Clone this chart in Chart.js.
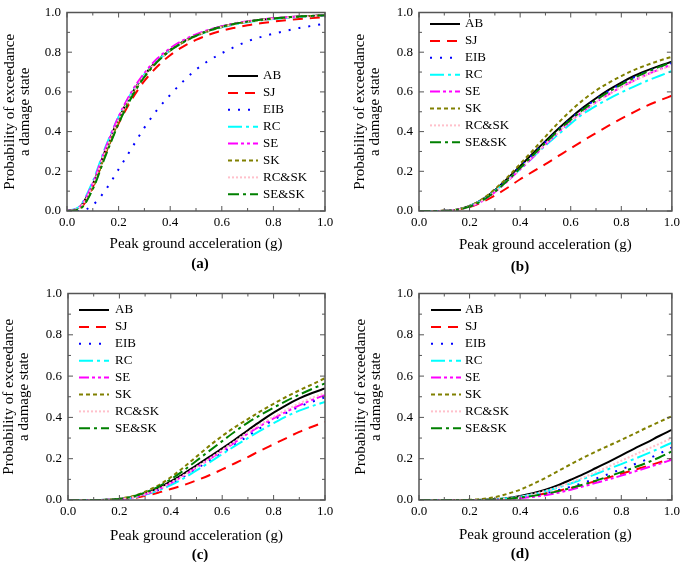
<!DOCTYPE html>
<html lang="en">
<head>
<meta charset="UTF-8" />
<title>Fragility curves</title>
<script src="https://cdn.jsdelivr.net/npm/chart.js@4.4.0/dist/chart.umd.min.js"></script>
<style>
  body { margin: 0; background: #fff; }
  #wrap { position: relative; width: 685px; height: 562px; }
  canvas { position: absolute; }
</style>
</head>
<body>
<div id="wrap">
  <canvas id="chartA" width="342" height="281" style="left:0;top:0"></canvas>
  <canvas id="chartB" width="343" height="281" style="left:342px;top:0"></canvas>
  <canvas id="chartC" width="342" height="281" style="left:0;top:281px"></canvas>
  <canvas id="chartD" width="343" height="281" style="left:342px;top:281px"></canvas>
</div>
<script>
// peak ground acceleration (g)
const pga = [0, 0.05, 0.1, 0.15, 0.2, 0.25, 0.3, 0.35, 0.4, 0.45, 0.5,
             0.55, 0.6, 0.65, 0.7, 0.75, 0.8, 0.85, 0.9, 0.95, 1.0];
const seriesNames = ["AB", "SJ", "EIB", "RC", "SE", "SK", "RC&SK", "SE&SK"];

// (a)
const a_AB   = [0, 0.02, 0.135, 0.31, 0.465, 0.59, 0.685, 0.758, 0.812, 0.853, 0.885, 0.91, 0.929, 0.943, 0.954, 0.963, 0.97, 0.975, 0.98, 0.983, 0.986];
const a_SJ   = [0, 0.012, 0.12, 0.29, 0.44, 0.56, 0.655, 0.728, 0.785, 0.828, 0.862, 0.888, 0.908, 0.923, 0.936, 0.946, 0.954, 0.961, 0.967, 0.972, 0.977];
const a_EIB  = [0, 0, 0.03, 0.107, 0.21, 0.315, 0.42, 0.51, 0.585, 0.653, 0.712, 0.758, 0.795, 0.827, 0.855, 0.876, 0.893, 0.908, 0.922, 0.933, 0.943];
const a_RC   = [0, 0.025, 0.15, 0.325, 0.475, 0.595, 0.688, 0.758, 0.81, 0.85, 0.882, 0.906, 0.925, 0.94, 0.951, 0.96, 0.967, 0.972, 0.977, 0.981, 0.984];
const a_SE   = [0, 0.022, 0.14, 0.318, 0.475, 0.6, 0.695, 0.768, 0.82, 0.86, 0.89, 0.913, 0.931, 0.945, 0.956, 0.964, 0.971, 0.976, 0.98, 0.983, 0.986];
const a_SK   = [0, 0.012, 0.115, 0.29, 0.45, 0.578, 0.678, 0.752, 0.808, 0.85, 0.882, 0.907, 0.927, 0.942, 0.953, 0.962, 0.969, 0.975, 0.979, 0.983, 0.986];
const a_RCSK = [0, 0.018, 0.13, 0.305, 0.46, 0.585, 0.682, 0.755, 0.81, 0.851, 0.883, 0.908, 0.927, 0.942, 0.953, 0.962, 0.969, 0.975, 0.979, 0.982, 0.985];
const a_SESK = [0, 0.01, 0.11, 0.28, 0.44, 0.572, 0.675, 0.752, 0.808, 0.85, 0.883, 0.908, 0.928, 0.943, 0.954, 0.963, 0.97, 0.975, 0.98, 0.983, 0.986];

// (b)
const b_AB   = [0, 0, 0.001, 0.007, 0.025, 0.058, 0.105, 0.163, 0.226, 0.29, 0.352, 0.413, 0.47, 0.522, 0.568, 0.61, 0.647, 0.68, 0.707, 0.731, 0.752];
const b_SJ   = [0, 0, 0.001, 0.006, 0.02, 0.045, 0.078, 0.117, 0.16, 0.198, 0.236, 0.276, 0.316, 0.355, 0.393, 0.43, 0.465, 0.498, 0.53, 0.556, 0.581];
const b_EIB  = [0, 0, 0.001, 0.007, 0.025, 0.057, 0.103, 0.16, 0.222, 0.286, 0.348, 0.408, 0.465, 0.517, 0.563, 0.604, 0.641, 0.673, 0.701, 0.725, 0.746];
const b_RC   = [0, 0, 0.001, 0.007, 0.025, 0.055, 0.1, 0.155, 0.21, 0.27, 0.33, 0.385, 0.44, 0.49, 0.53, 0.565, 0.597, 0.627, 0.655, 0.68, 0.705];
const b_SE   = [0, 0, 0.001, 0.006, 0.022, 0.05, 0.095, 0.15, 0.21, 0.27, 0.335, 0.395, 0.452, 0.503, 0.548, 0.588, 0.625, 0.657, 0.687, 0.713, 0.738];
const b_SK   = [0, 0, 0.001, 0.007, 0.025, 0.06, 0.11, 0.17, 0.237, 0.305, 0.375, 0.443, 0.505, 0.56, 0.607, 0.646, 0.68, 0.71, 0.735, 0.757, 0.777];
const b_RCSK = [0, 0, 0.001, 0.006, 0.023, 0.053, 0.097, 0.152, 0.213, 0.275, 0.337, 0.396, 0.452, 0.503, 0.548, 0.588, 0.624, 0.656, 0.685, 0.71, 0.732];
const b_SESK = [0, 0, 0.001, 0.006, 0.022, 0.052, 0.097, 0.153, 0.216, 0.28, 0.343, 0.404, 0.46, 0.512, 0.558, 0.6, 0.637, 0.67, 0.7, 0.726, 0.75];

// (c)
const c_AB   = [0, 0, 0, 0.001, 0.005, 0.015, 0.032, 0.057, 0.09, 0.127, 0.168, 0.209, 0.25, 0.293, 0.338, 0.382, 0.423, 0.46, 0.492, 0.518, 0.54];
const c_SJ   = [0, 0, 0, 0, 0.002, 0.008, 0.02, 0.035, 0.053, 0.072, 0.095, 0.12, 0.148, 0.178, 0.208, 0.24, 0.27, 0.3, 0.33, 0.355, 0.378];
const c_EIB  = [0, 0, 0, 0.001, 0.004, 0.012, 0.027, 0.048, 0.078, 0.113, 0.152, 0.19, 0.228, 0.268, 0.31, 0.35, 0.388, 0.422, 0.452, 0.476, 0.497];
const c_RC   = [0, 0, 0, 0.001, 0.004, 0.011, 0.025, 0.045, 0.072, 0.105, 0.143, 0.182, 0.222, 0.262, 0.3, 0.337, 0.372, 0.405, 0.433, 0.455, 0.475];
const c_SE   = [0, 0, 0, 0.001, 0.004, 0.012, 0.028, 0.05, 0.082, 0.118, 0.158, 0.198, 0.238, 0.28, 0.322, 0.36, 0.395, 0.428, 0.458, 0.485, 0.508];
const c_SK   = [0, 0, 0, 0.001, 0.006, 0.018, 0.04, 0.07, 0.11, 0.158, 0.21, 0.262, 0.31, 0.353, 0.392, 0.43, 0.466, 0.5, 0.531, 0.56, 0.59];
const c_RCSK = [0, 0, 0, 0.001, 0.004, 0.013, 0.029, 0.052, 0.084, 0.12, 0.16, 0.2, 0.242, 0.285, 0.328, 0.367, 0.403, 0.437, 0.468, 0.495, 0.518];
const c_SESK = [0, 0, 0, 0.001, 0.005, 0.016, 0.036, 0.064, 0.1, 0.143, 0.19, 0.238, 0.285, 0.332, 0.375, 0.412, 0.447, 0.48, 0.51, 0.538, 0.565];

// (d)
const d_AB   = [0, 0, 0, 0, 0, 0.001, 0.004, 0.01, 0.02, 0.033, 0.05, 0.072, 0.098, 0.125, 0.155, 0.185, 0.216, 0.248, 0.278, 0.31, 0.34];
const d_SJ   = [0, 0, 0, 0, 0, 0, 0.001, 0.006, 0.014, 0.022, 0.032, 0.044, 0.058, 0.074, 0.092, 0.109, 0.127, 0.145, 0.163, 0.182, 0.2];
const d_EIB  = [0, 0, 0, 0, 0, 0, 0.002, 0.006, 0.013, 0.022, 0.033, 0.047, 0.064, 0.083, 0.104, 0.126, 0.149, 0.172, 0.196, 0.224, 0.255];
const d_RC   = [0, 0, 0, 0, 0, 0, 0.003, 0.008, 0.016, 0.027, 0.042, 0.06, 0.08, 0.102, 0.126, 0.15, 0.174, 0.198, 0.223, 0.25, 0.278];
const d_SE   = [0, 0, 0, 0, 0, 0, 0.001, 0.004, 0.009, 0.015, 0.023, 0.035, 0.05, 0.066, 0.083, 0.1, 0.118, 0.137, 0.156, 0.175, 0.195];
const d_SK   = [0, 0, 0, 0, 0.001, 0.005, 0.014, 0.03, 0.05, 0.077, 0.107, 0.14, 0.173, 0.205, 0.235, 0.263, 0.291, 0.32, 0.35, 0.378, 0.406];
const d_RCSK = [0, 0, 0, 0, 0, 0, 0.003, 0.008, 0.016, 0.028, 0.044, 0.063, 0.085, 0.109, 0.135, 0.162, 0.19, 0.218, 0.245, 0.272, 0.3];
const d_SESK = [0, 0, 0, 0, 0, 0, 0.002, 0.006, 0.012, 0.02, 0.03, 0.043, 0.058, 0.075, 0.094, 0.114, 0.135, 0.157, 0.18, 0.206, 0.235];

const FONT = "'Liberation Serif', 'Times New Roman', serif";

// line look of each series (same in every panel)
const lineStyle = {
  "AB":    { color: "#000000", dash: [] },
  "SJ":    { color: "#ff0000", dash: [10, 7] },
  "EIB":   { color: "#0000ff", dash: [2, 8] },
  "RC":    { color: "#00ffff", dash: [14, 4, 3, 4] },
  "SE":    { color: "#ff00ff", dash: [10, 3, 3, 3, 3, 3] },
  "SK":    { color: "#808000", dash: [4, 3] },
  "RC&SK": { color: "#ffc0cb", dash: [2, 2] },
  "SE&SK": { color: "#008000", dash: [11, 4, 3, 4] }
};

// panel placement, in canvas pixels
const panels = [
  { id: "chartA", caption: "(a)", data: [a_AB, a_SJ, a_EIB, a_RC, a_SE, a_SK, a_RCSK, a_SESK],
    w: 342, h: 281, plot: { left: 67, top: 7, right: 325, bottom: 211 },
    yTitleX: 10, xTitleY: 244, cap: { x: 200, y: 264 }, legend: { x: 228, y: 76, tx: 263 } },
  { id: "chartB", caption: "(b)", data: [b_AB, b_SJ, b_EIB, b_RC, b_SE, b_SK, b_RCSK, b_SESK],
    w: 343, h: 281, plot: { left: 77, top: 7, right: 334, bottom: 211 },
    yTitleX: 18, xTitleY: 245, cap: { x: 178, y: 267 }, legend: { x: 88, y: 24, tx: 123 } },
  { id: "chartC", caption: "(c)", data: [c_AB, c_SJ, c_EIB, c_RC, c_SE, c_SK, c_RCSK, c_SESK],
    w: 342, h: 281, plot: { left: 68, top: 12, right: 325, bottom: 219 },
    yTitleX: 9, xTitleY: 255, cap: { x: 200, y: 274 }, legend: { x: 79, y: 29, tx: 115 } },
  { id: "chartD", caption: "(d)", data: [d_AB, d_SJ, d_EIB, d_RC, d_SE, d_SK, d_RCSK, d_SESK],
    w: 343, h: 281, plot: { left: 77, top: 12, right: 334, bottom: 219 },
    yTitleX: 19, xTitleY: 254, cap: { x: 178, y: 273 }, legend: { x: 89, y: 29, tx: 123 } }
];

// frame, inward ticks on all four sides, legend and caption
const decor = {
  id: "decor",
  afterDatasetsDraw(chart, args, opts) {
    const { ctx, chartArea: ca } = chart;
    const x = chart.scales.x, y = chart.scales.y;
    ctx.save();
    ctx.setLineDash([]);
    ctx.strokeStyle = "#555";
    ctx.lineWidth = 1.5;
    ctx.strokeRect(ca.left, ca.top, ca.right - ca.left, ca.bottom - ca.top);
    ctx.lineWidth = 1;
    for (let i = 0; i <= 10; i++) {
      const len = i % 2 === 0 ? 5 : 3;
      const px = x.getPixelForValue(i / 10), py = y.getPixelForValue(i / 10);
      ctx.beginPath();
      ctx.moveTo(px, ca.bottom); ctx.lineTo(px, ca.bottom - len);
      ctx.moveTo(px, ca.top); ctx.lineTo(px, ca.top + len);
      ctx.moveTo(ca.left, py); ctx.lineTo(ca.left + len, py);
      ctx.moveTo(ca.right, py); ctx.lineTo(ca.right - len, py);
      ctx.stroke();
    }

    // legend
    const lg = opts.legend;
    ctx.font = "13px " + FONT;
    ctx.textBaseline = "middle";
    ctx.textAlign = "left";
    chart.data.datasets.forEach((ds, i) => {
      const ly = lg.y + i * 16.9;
      ctx.strokeStyle = ds.borderColor;
      ctx.lineWidth = 2;
      ctx.setLineDash(ds.borderDash);
      ctx.beginPath();
      ctx.moveTo(lg.x, ly);
      ctx.lineTo(lg.x + 30, ly);
      ctx.stroke();
      ctx.fillStyle = "#000";
      ctx.fillText(ds.label, lg.tx, ly);
    });

    // caption
    ctx.font = "bold 15px " + FONT;
    ctx.textAlign = "center";
    ctx.fillText(opts.caption, opts.cap.x, opts.cap.y);
    ctx.restore();
  }
};

panels.forEach(p => {
  const xh = p.xTitleY + 9.5 - p.plot.bottom;
  const datasets = seriesNames.map((name, i) => ({
    label: name,
    data: pga.map((g, k) => ({ x: g, y: p.data[i][k] })),
    borderColor: lineStyle[name].color,
    borderDash: lineStyle[name].dash,
    borderWidth: 2,
    pointRadius: 0,
    fill: false,
    cubicInterpolationMode: "monotone",
    order: seriesNames.length - i
  }));

  new Chart(document.getElementById(p.id), {
    type: "line",
    data: { datasets },
    options: {
      responsive: false,
      animation: false,
      events: [],
      layout: {
        padding: {
          left: 0,
          top: p.plot.top,
          right: p.w - p.plot.right,
          bottom: p.h - p.plot.bottom - xh
        }
      },
      plugins: {
        legend: { display: false },
        tooltip: { enabled: false },
        decor: { legend: p.legend, caption: p.caption, cap: p.cap }
      },
      scales: {
        x: {
          type: "linear", min: 0, max: 1,
          afterFit: s => { s.height = xh; },
          grid: { display: false, drawTicks: false },
          border: { display: false },
          ticks: {
            stepSize: 0.2, padding: 5, color: "#000", maxRotation: 0,
            font: { family: FONT, size: 13, lineHeight: 1 },
            callback: v => v.toFixed(1)
          },
          title: {
            display: true, text: "Peak ground acceleration (g)", color: "#000",
            font: { family: FONT, size: 15, lineHeight: 1 },
            padding: { top: 0, bottom: 2 }
          }
        },
        y: {
          min: 0, max: 1,
          afterFit: s => { s.width = p.plot.left; },
          grid: { display: false, drawTicks: false },
          border: { display: false },
          ticks: {
            stepSize: 0.2, padding: 6, color: "#000",
            font: { family: FONT, size: 13, lineHeight: 1 },
            callback: v => v.toFixed(1)
          },
          title: {
            display: true, text: ["Probability of exceedance", "a damage state"], color: "#000",
            font: { family: FONT, size: 15, lineHeight: 1 },
            padding: { top: p.yTitleX - 7.5, bottom: 0 }
          }
        }
      }
    },
    plugins: [decor]
  });
});
</script>
</body>
</html>
